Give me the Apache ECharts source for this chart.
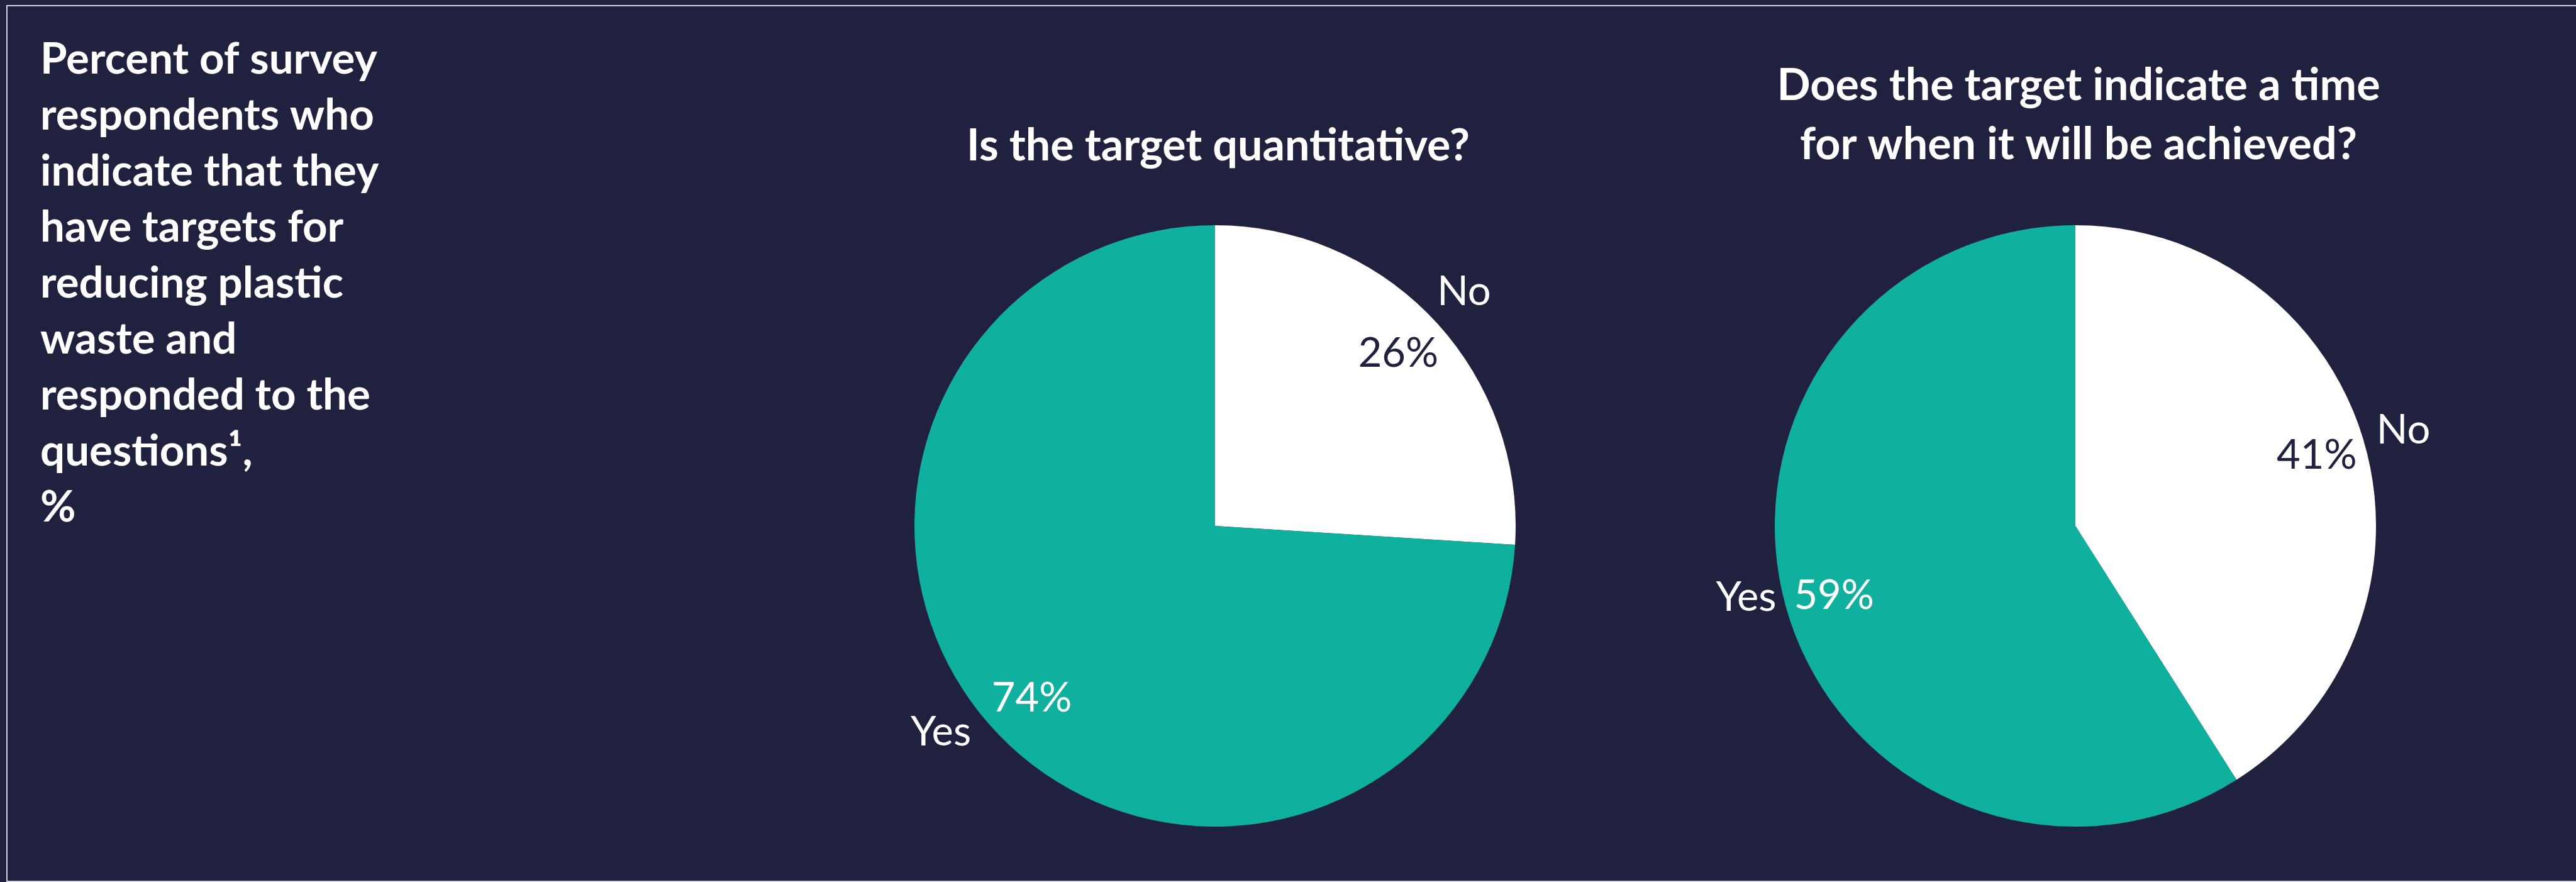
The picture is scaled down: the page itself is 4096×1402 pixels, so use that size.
<!DOCTYPE html>
<html>
<head>
<meta charset="utf-8">
<script src="https://cdn.jsdelivr.net/npm/echarts@6/dist/echarts.min.js"></script>
<style>
  html, body { margin: 0; padding: 0; background: #20203f; }
  #chart { width: 4096px; height: 1402px; }
</style>
</head>
<body>
<div id="chart"></div>
<script>
// data
var sideNote = ['Percent of survey', 'respondents who', 'indicate that they', 'have targets for',
  'reducing plastic', 'waste and', 'responded to the', 'questions\u00b9,', '%'];
var answers = ['No', 'Yes'];
var pieTitles = ['Is the target quantitative?', 'Does the target indicate a time\nfor when it will be achieved?'];
var quantitative = [26, 74];
var timeBound = [41, 59];

var NAVY = '#20203f', TEAL = '#10b09e', FONT = 'Lato';
var R = 478, CY = 836;
// yesNudge: hand placement of the "Yes" name in the original
var pies = [
  { cx: 1932, values: quantitative, yesNudge: [-40, -44] },
  { cx: 3300, values: timeBound, yesNudge: [-2, -38] }
];

function sliceData(values, withColor) {
  return answers.map(function (name, i) {
    var d = { name: name, value: values[i] };
    if (withColor) d.itemStyle = { color: i === 0 ? '#ffffff' : TEAL };
    else d.label = { color: i === 0 ? NAVY : '#ffffff' };
    return d;
  });
}

var series = [];
pies.forEach(function (p) {
  // filled slices
  series.push({
    type: 'pie', center: [p.cx, CY], radius: [0, R], startAngle: 90, clockwise: true,
    silent: true, label: { show: false }, labelLine: { show: false },
    data: sliceData(p.values, true)
  });
  // percent labels, transparent ring so they sit near the rim
  series.push({
    type: 'pie', center: [p.cx, CY], radius: [R * 0.66, R], startAngle: 90, clockwise: true,
    silent: true, itemStyle: { color: 'rgba(0,0,0,0)' },
    label: { show: true, position: 'inside', formatter: '{c}%', fontFamily: FONT, fontSize: 65 },
    labelLine: { show: false },
    data: sliceData(p.values, false)
  });
  // answer names just outside
  series.push({
    type: 'pie', center: [p.cx, CY], radius: [R, R * 1.26], startAngle: 90, clockwise: true,
    silent: true, itemStyle: { color: 'rgba(0,0,0,0)' },
    label: { show: true, position: 'inside', formatter: '{b}', color: '#ffffff', fontFamily: FONT, fontSize: 65 },
    labelLine: { show: false },
    data: answers.map(function (n, i) {
      var d = { name: n, value: p.values[i] };
      if (n === 'Yes') d.label = { offset: p.yesNudge };
      return d;
    })
  });
});

var chart = echarts.init(document.getElementById('chart'));
chart.setOption({
  backgroundColor: NAVY,
  animation: false,
  title: [
    { text: pieTitles[0], left: 1932, top: 180, textAlign: 'center',
      textStyle: { color: '#ffffff', fontFamily: FONT, fontWeight: 'bold', fontSize: 70, lineHeight: 94 } },
    { text: pieTitles[1], left: 3300, top: 84, textAlign: 'center',
      textStyle: { color: '#ffffff', fontFamily: FONT, fontWeight: 'bold', fontSize: 70, lineHeight: 94 } }
  ],
  graphic: [
    { type: 'rect', shape: { x: 11, y: 9, width: 4200, height: 1392 }, silent: true,
      style: { fill: 'none', stroke: '#d4d4dc', lineWidth: 2 } },
    { type: 'text', left: 64, top: 50, silent: true,
      style: { text: sideNote.join('\n'), fill: '#ffffff', font: 'bold 69px Lato', lineHeight: 89 } }
  ],
  series: series
});
</script>
</body>
</html>
